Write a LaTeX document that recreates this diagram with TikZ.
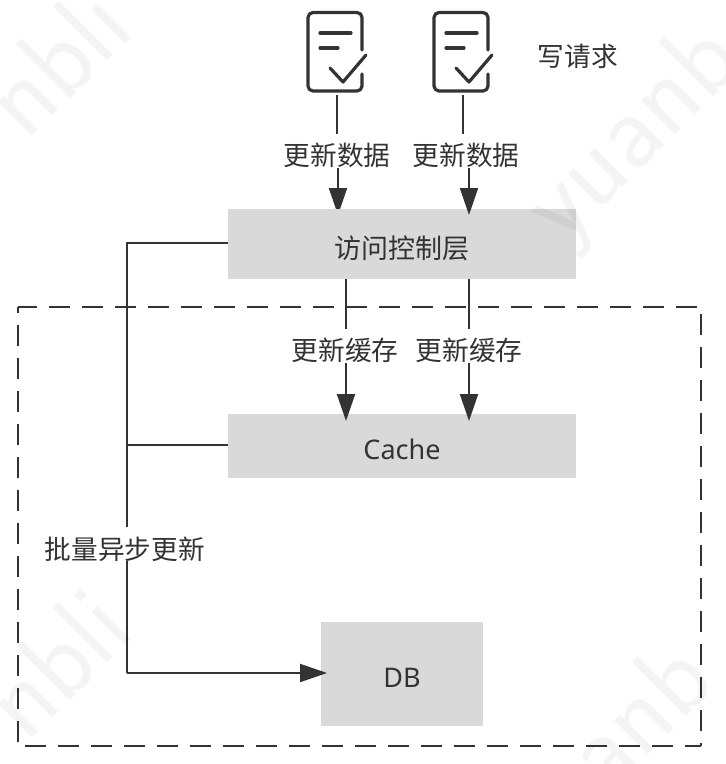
\documentclass[tikz,border=0pt]{standalone}
\usepackage{fontspec}
\setmainfont{Noto Sans}
\newfontfamily\cjk{Noto Sans CJK SC}
\usetikzlibrary{arrows.meta}
\definecolor{ink}{HTML}{333333}
\definecolor{boxgray}{HTML}{D9D9D9}
\pgfdeclarelayer{back}
\pgfsetlayers{back,main}
\newcommand{\lowered}[2]{\raisebox{-#1pt}[0pt][0pt]{#2}}
\tikzset{
  grayblock/.style={fill=boxgray,draw=none,inner sep=0pt,font=\fontsize{27}{30}\selectfont\cjk,text=ink},
  plainlabel/.style={font=\fontsize{26.7}{30}\selectfont\cjk,text=ink,inner sep=0pt},
  edgelabel/.style={plainlabel,fill=white,minimum height=34pt},
  link/.style={draw=ink,line width=2pt},
  linkarrow/.style={link,-{Triangle[length=27pt,width=18pt,fill=ink]}},
  framelined/.style={draw=ink,line width=2pt,dash pattern=on 21pt off 12pt},
  watermark/.style={font=\fontsize{110}{110}\selectfont\sffamily,text=black,text opacity=0.045,rotate=45,inner sep=0pt},
  iconline/.style={draw=ink,line width=3.2pt,line cap=round,line join=round},
  iconbox/.style={minimum width=54pt,minimum height=78pt,inner sep=0pt},
}
\begin{document}
\begin{tikzpicture}[x=1pt,y=-1pt]
\useasboundingbox (0,0) rectangle (726,764);
% icons
\node[iconbox] (doca) at (335,52) {};
\node[iconbox] (docb) at (461,52) {};
\foreach \n in {doca,docb}{
\begin{scope}[shift={(\n.center)}]
  \draw[iconline] (27,-2) -- (27,-34.5) arc[start angle=0,end angle=-90,radius=5] -- (-22,-39.5)
     arc[start angle=-90,end angle=-180,radius=5] -- (-27,34) arc[start angle=180,end angle=90,radius=5]
     -- (22,39) arc[start angle=90,end angle=0,radius=5] -- (27,22);
  \draw[iconline] (-15,-19) -- (16,-19);
  \draw[iconline] (-15,-4) -- (3,-4);
  \draw[iconline] (-5,16) -- (8,30) -- (31,3);
\end{scope}}
% dashed frame
\node[minimum width=683pt,minimum height=439pt,inner sep=0pt] (frame) at (359.5,526.5) {};
\draw[framelined,dash phase=2pt] (frame.north west) -- (frame.north east) -- (frame.south east);
\draw[framelined,dash phase=5pt] (frame.south east) -- (frame.south west) -- (frame.north west);
% boxes
\node[grayblock,minimum width=348pt,minimum height=70pt] (acl) at (402,244) {\lowered{14}{访问控制层}};
\node[grayblock,minimum width=348pt,minimum height=64pt] (cache) at (402,446) {\lowered{13}{\fontspec{Noto Sans}Cache}};
\node[grayblock,minimum width=162pt,minimum height=104pt] (db) at (402,674) {\lowered{13}{\fontspec{Noto Sans}DB}};
\coordinate (ja) at (337,95);
\coordinate (jb) at (463,95);
\coordinate (ta) at (338,215);
\coordinate (tb) at (469,215);
\coordinate (ca) at (346,279);
\coordinate (cb) at (469,279);
\coordinate (cta) at (346,421);
\coordinate (ctb) at (469,421);
\coordinate (bus) at (127,243);
\coordinate (busm) at (127,445);
\coordinate (bend) at (127,673);
\coordinate (dbtip) at (327,673);
% connectors
\draw[link] (ja) -- (337,150);
\begin{pgfonlayer}{back}
\draw[linkarrow] (338,150) -- (ta);
\end{pgfonlayer}
\draw[link] (jb) -- (463,150);
\draw[linkarrow] (469,150) -- (tb);
\draw[linkarrow] (ca) -- (cta);
\draw[linkarrow] (cb) -- (ctb);
\draw[link] (acl.west |- bus) -- (bus) -- (bend);
\draw[link] (cache.west |- busm) -- (busm);
\draw[linkarrow] (bend) -- (dbtip);
% labels
\node[edgelabel] (la) at (337,151) {\lowered{14}{更新数据}};
\node[edgelabel] (lb) at (466,151) {\lowered{14}{更新数据}};
\node[edgelabel] (lc) at (345,346) {\lowered{14}{更新缓存}};
\node[edgelabel] (ld) at (469,346) {\lowered{14}{更新缓存}};
\node[edgelabel] (le) at (125,544) {\lowered{15}{批量异步更新}};
\node[plainlabel] (req) at (578,56) {写请求};
% watermark
\begin{scope}
\clip (0,0) rectangle (726,764);
\node[watermark] at (55,60) {nbli};
\node[watermark] at (635,137) {yuanb};
\node[watermark] at (55,662) {nbli};
\node[watermark] at (608,757) {yuanb};
\end{scope}
\end{tikzpicture}
\end{document}
